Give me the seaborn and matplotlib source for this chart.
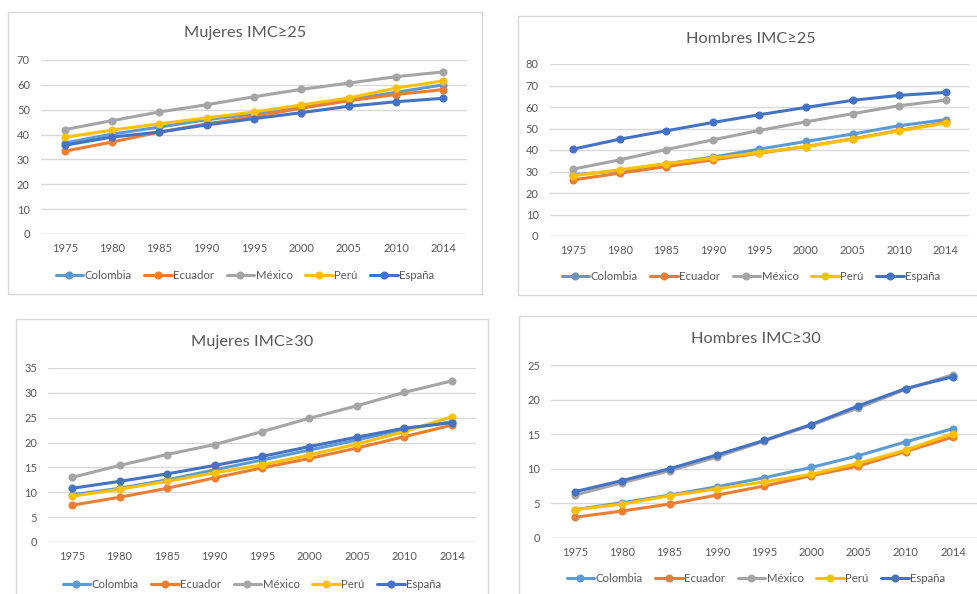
import matplotlib
matplotlib.use("Agg")
import matplotlib.pyplot as plt
from matplotlib.patches import Rectangle
from matplotlib.lines import Line2D
import pandas as pd
import seaborn as sns

# ---- data -------------------------------------------------------------
years = ["1975", "1980", "1985", "1990", "1995", "2000", "2005", "2010", "2014"]
countries = ["Colombia", "Ecuador", "México", "Perú", "España"]
colors = ["#5B9BD5", "#ED7D31", "#A5A5A5", "#FFC000", "#4472C4"]

# Mujeres IMC>=25
muj25_colombia = [36.6, 40.2, 43.0, 46.0, 48.3, 51.3, 54.0, 57.0, 60.0]
muj25_ecuador = [33.3, 37.0, 41.0, 44.3, 47.3, 50.6, 53.6, 56.1, 58.1]
muj25_mexico = [42.0, 45.6, 49.1, 52.0, 55.2, 58.2, 60.7, 63.3, 65.2]
muj25_peru = [38.9, 41.8, 44.3, 46.7, 49.1, 51.9, 54.7, 58.7, 61.6]
muj25_espana = [35.7, 39.0, 41.0, 43.9, 46.4, 48.8, 51.4, 53.2, 54.6]

# Hombres IMC>=25
hom25_colombia = [28.4, 30.4, 33.6, 36.7, 40.4, 44.0, 47.4, 51.3, 54.1]
hom25_ecuador = [26.1, 29.2, 32.3, 35.4, 38.5, 41.6, 45.2, 49.1, 52.8]
hom25_mexico = [31.1, 35.4, 40.2, 44.7, 49.1, 53.1, 56.9, 60.6, 63.2]
hom25_peru = [28.0, 30.8, 33.6, 36.2, 38.8, 41.6, 45.0, 48.9, 52.5]
hom25_espana = [40.4, 45.0, 48.9, 52.8, 56.4, 59.8, 63.1, 65.4, 66.8]

# Mujeres IMC>=30
muj30_colombia = [9.5, 10.8, 12.5, 14.5, 16.5, 18.5, 20.5, 22.7, 24.2]
muj30_ecuador = [7.4, 9.0, 10.8, 12.9, 14.9, 16.8, 18.9, 21.2, 23.5]
muj30_mexico = [13.0, 15.4, 17.6, 19.6, 22.2, 24.9, 27.4, 30.1, 32.4]
muj30_peru = [9.2, 10.6, 12.2, 13.9, 15.5, 17.5, 19.7, 22.2, 25.2]
muj30_espana = [10.8, 12.2, 13.7, 15.4, 17.2, 19.2, 21.1, 22.9, 24.0]

# Hombres IMC>=30
hom30_colombia = [4.1, 5.1, 6.2, 7.4, 8.7, 10.2, 11.9, 13.9, 15.8]
hom30_ecuador = [3.0, 3.9, 4.9, 6.2, 7.5, 9.0, 10.4, 12.5, 14.6]
hom30_mexico = [6.2, 8.0, 9.7, 11.7, 14.0, 16.3, 18.8, 21.5, 23.6]
hom30_peru = [4.1, 4.9, 6.1, 7.1, 8.1, 9.2, 10.8, 12.7, 15.1]
hom30_espana = [6.7, 8.3, 10.0, 12.0, 14.1, 16.4, 19.1, 21.6, 23.3]

titles = ["Mujeres IMC≥25", "Hombres IMC≥25", "Mujeres IMC≥30", "Hombres IMC≥30"]
series = [
    [muj25_colombia, muj25_ecuador, muj25_mexico, muj25_peru, muj25_espana],
    [hom25_colombia, hom25_ecuador, hom25_mexico, hom25_peru, hom25_espana],
    [muj30_colombia, muj30_ecuador, muj30_mexico, muj30_peru, muj30_espana],
    [hom30_colombia, hom30_ecuador, hom30_mexico, hom30_peru, hom30_espana],
]
y_max = [70, 80, 35, 25]
y_step = [10, 10, 5, 5]

# ---- layout (pixels) --------------------------------------------------
W, H = 978, 594
# plot area: left, top, right, bottom
plot_px = [(41, 60, 467, 234), (549.7, 64, 969, 236),
           (48.3, 368, 475.7, 542), (551.4, 365, 976.6, 538)]
# chart frame: left, top, right, bottom
frame_px = [(8, 12, 482, 294), (518, 16, 984, 295),
            (16, 319, 488, 640), (519, 316, 993, 640)]
title_y = [33, 39, 342, 339]
legend_y = [275, 276, 584, 578]

sns.set_theme(style="white")
plt.rcParams["font.family"] = ["Lato", "DejaVu Sans"]
text_col = "#595959"
grid_col = "#D9D9D9"

fig = plt.figure(figsize=(W / 100, H / 100), dpi=100)
fig.patch.set_facecolor("white")


def to_fig(l, t, r, b):
    return [l / W, 1 - b / H, (r - l) / W, (b - t) / H]


for k in range(4):
    fl, ft, fr, fb = frame_px[k]
    fig.patches.append(Rectangle((fl / W, 1 - fb / H), (fr - fl) / W, (fb - ft) / H,
                                 transform=fig.transFigure, fill=False,
                                 edgecolor=grid_col, linewidth=1.0, zorder=0))
    ax = fig.add_axes(to_fig(*plot_px[k]))
    ax.set_facecolor("none")

    df = pd.DataFrame({
        "pos": list(range(len(years))) * len(countries),
        "valor": [v for s in series[k] for v in s],
        "pais": [c for c in countries for _ in years],
    })
    sns.lineplot(data=df, x="pos", y="valor", hue="pais", hue_order=countries,
                 palette=colors, marker="o", markersize=5.8, markeredgewidth=0,
                 linewidth=2.2, ax=ax, legend=False, zorder=3)

    ax.set_xlim(-0.5, len(years) - 0.5)
    ax.set_ylim(0, y_max[k])
    ax.set_yticks(range(0, y_max[k] + 1, y_step[k]))
    ax.set_xticks(range(len(years)))
    ax.set_xticklabels(years)
    ax.grid(axis="y", color=grid_col, linewidth=1.0)
    ax.grid(axis="x", visible=False)
    ax.set_axisbelow(True)
    for sp in ax.spines.values():
        sp.set_visible(False)
    ax.axhline(0, color=grid_col, linewidth=1.0, zorder=1)
    ax.tick_params(axis="both", length=0, labelsize=8, colors=text_col)
    ax.tick_params(axis="y", pad=8)
    ax.tick_params(axis="x", pad=6.5)
    ax.set_xlabel("")
    ax.set_ylabel("")

    cx = (fl + fr) / 2
    fig.text(cx / W, 1 - title_y[k] / H, titles[k], ha="center", va="center",
             fontsize=11.8, color=text_col)

    handles = [Line2D([0], [0], color=c, lw=2.2, marker="o", markersize=5.8,
                      markeredgewidth=0) for c in colors]
    leg = fig.legend(handles, countries, loc="center",
                     bbox_to_anchor=(cx / W, 1 - legend_y[k] / H),
                     ncol=5, frameon=False, fontsize=8.2, handlelength=2.4,
                     handletextpad=0.15, columnspacing=1.1)
    for t in leg.get_texts():
        t.set_color(text_col)

fig.savefig("out.png", dpi=100, facecolor="white")
